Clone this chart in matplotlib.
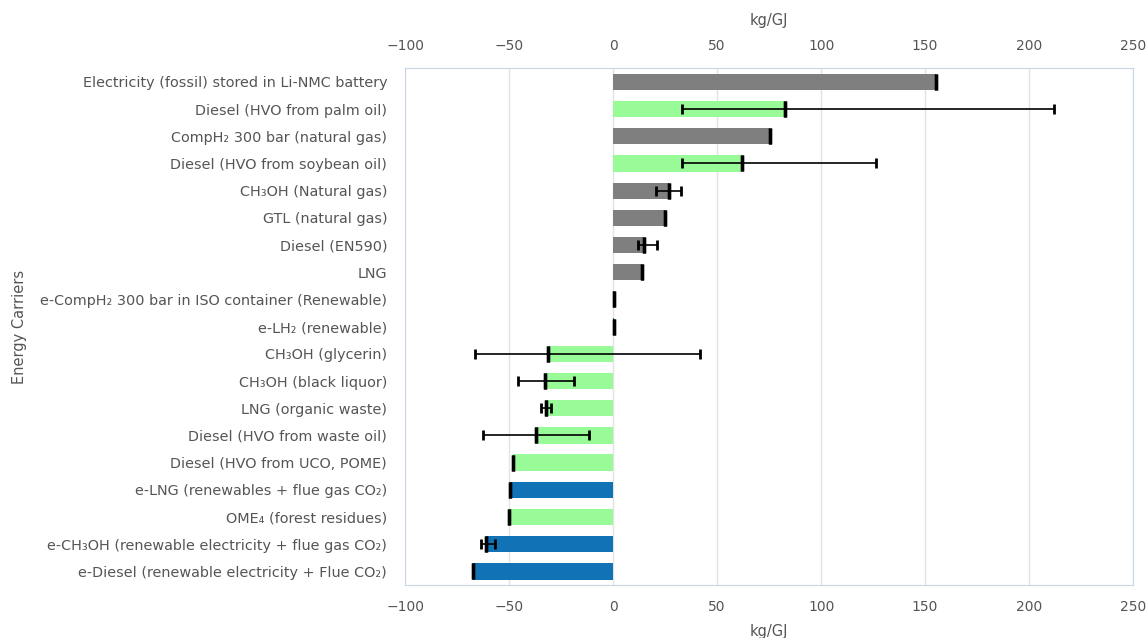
import matplotlib.pyplot as plt
import numpy as np

# Energy carriers, top to bottom
carriers = [
    "Electricity (fossil) stored in Li-NMC battery",
    "Diesel (HVO from palm oil)",
    "CompH₂ 300 bar (natural gas)",
    "Diesel (HVO from soybean oil)",
    "CH₃OH (Natural gas)",
    "GTL (natural gas)",
    "Diesel (EN590)",
    "LNG",
    "e-CompH₂ 300 bar in ISO container (Renewable)",
    "e-LH₂ (renewable)",
    "CH₃OH (glycerin)",
    "CH₃OH (black liquor)",
    "LNG (organic waste)",
    "Diesel (HVO from waste oil)",
    "Diesel (HVO from UCO, POME)",
    "e-LNG (renewables + flue gas CO₂)",
    "OME₄ (forest residues)",
    "e-CH₃OH (renewable electricity + flue gas CO₂)",
    "e-Diesel (renewable electricity + Flue CO₂)",
]
values = [155, 82.5, 75.5, 61.7, 27, 25, 15, 13.8, 0.5, 0.5,
          -31.2, -32.6, -32.4, -37, -48.1, -49.7, -50.2, -61.1, -67.4]
err_low = [155, 33, 75.5, 33, 20.7, 25, 11.7, 13.8, 0.5, 0.5,
           -66.3, -45.9, -34.6, -62.4, -48.1, -49.7, -50.2, -63.8, -67.4]
err_high = [155, 212, 75.5, 126.5, 32.6, 25, 21, 13.8, 0.5, 0.5,
            41.8, -18.7, -30.1, -11.8, -48.1, -49.7, -50.2, -56.7, -67.4]
# fossil / bio / e-fuel
kind = ["fossil", "bio", "fossil", "bio", "fossil", "fossil", "fossil", "fossil",
        "efuel", "efuel", "bio", "bio", "bio", "bio", "bio", "efuel", "bio",
        "efuel", "efuel"]
xticks = [-100, -50, 0, 50, 100, 150, 200, 250]

palette = {"fossil": "#7f7f7f", "bio": "#98fb98", "efuel": "#1173b6"}
colors = [palette[k] for k in kind]
txt = "#555555"

fig = plt.figure(figsize=(11.48, 6.38), dpi=100)
ax = fig.add_axes([0.353, 0.083, 0.634, 0.810])

y = np.arange(len(carriers))
vals = np.array(values)
lo = vals - np.array(err_low)
hi = np.array(err_high) - vals
ax.barh(y, vals, height=0.6, color=colors, zorder=2)
ax.errorbar(vals, y, xerr=[lo, hi], fmt="none", ecolor="black", elinewidth=1.2,
            capsize=3.3, capthick=2, zorder=3)
# thick marker at the bar end
ax.errorbar(vals, y, xerr=0, fmt="none", ecolor="black", capsize=5.5, capthick=2.4, zorder=3)

ax.set_ylim(len(carriers) - 0.5, -0.5)
ax.set_xlim(-100, 250)
ax.set_yticks(y)
ax.set_yticklabels(carriers, fontsize=10.4, color=txt)
ax.set_xticks(xticks)
ax.tick_params(axis="x", which="both", length=0, labelsize=10, labelcolor=txt,
               top=True, labeltop=True, pad=11)
ax.tick_params(axis="y", length=0, pad=13)
ax.grid(axis="x", color="#e3e3e3", linewidth=1, zorder=0)
for s in ax.spines.values():
    s.set_color("#c9d6ea")

ax.set_xlabel("kg/GJ", fontsize=10.5, color=txt, labelpad=7)
ax.set_ylabel("Energy Carriers", fontsize=10.5, color=txt)
ax.yaxis.set_label_coords(-0.52, 0.5)
top = ax.secondary_xaxis("top")
top.set_xticks([])
top.set_xlabel("kg/GJ", fontsize=10.5, color=txt, labelpad=31)
top.spines["top"].set_visible(False)

fig.savefig("out.png", dpi=100)
